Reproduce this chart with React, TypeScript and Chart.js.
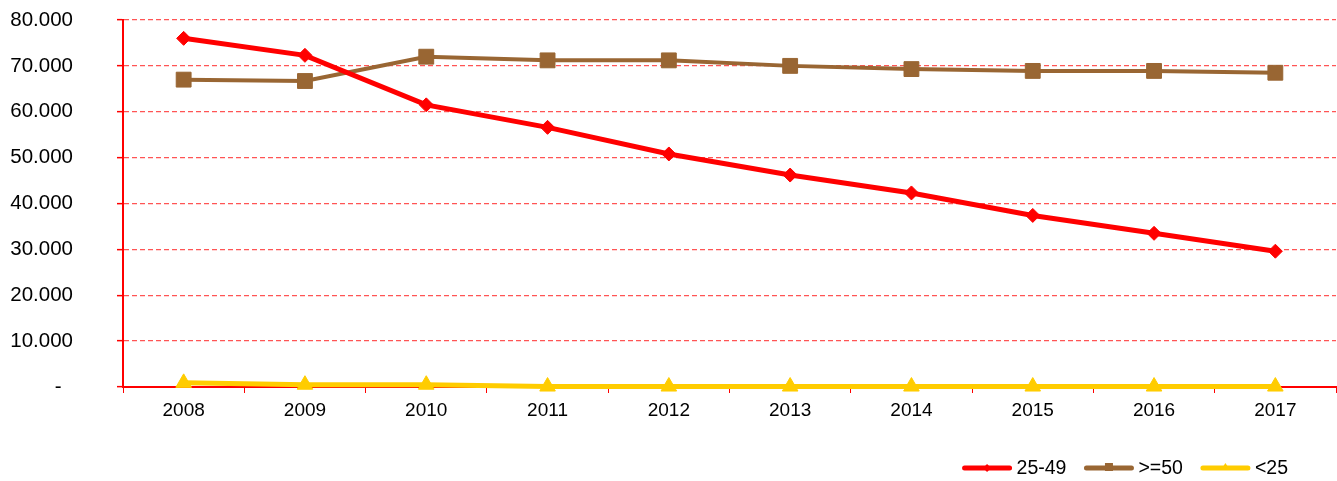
import { useEffect, useRef } from 'react';
import { Chart, registerables } from 'chart.js';

Chart.register(...registerables);

const FONT = "'Liberation Sans', Arial, sans-serif";

const years = ['2008', '2009', '2010', '2011', '2012', '2013', '2014', '2015', '2016', '2017'];
const age25to49 = [76000, 72300, 61500, 56600, 50800, 46200, 42300, 37400, 33500, 29600];
const age50plus = [67000, 66700, 72000, 71200, 71200, 70000, 69300, 68900, 68900, 68500];
const ageUnder25 = [900, 500, 500, 100, 100, 100, 100, 100, 100, 100];
const seriesLabels = ['25-49', '>=50', '<25'];
const seriesColors = ['#ff0000', '#996633', '#ffcc00'];
const seriesMarkers = ['rectRot', 'rect', 'triangle'];
const yMin = 0;
const yMax = 80000;
const yStep = 10000;

function fmt(v: number): string {
  if (v === 0) return '-  ';
  return String(Math.round(v)).replace(/\B(?=(\d{3})+(?!\d))/g, '.');
}

const legendPlugin = {
  id: 'customLegend',
  afterDraw(chart: any) {
    const ctx = chart.ctx as CanvasRenderingContext2D;
    const ds = chart.data.datasets;
    ctx.save();
    ctx.font = `19.5px ${FONT}`;
    const lineLen = 49;
    const textGap = 5;
    const itemGap = 18;
    const widths = ds.map((d: any) => ctx.measureText(d.label).width);
    let total = 0;
    widths.forEach((w: number) => (total += lineLen + textGap + w));
    total += itemGap * (ds.length - 1);
    let x = chart.width - 49 - total;
    const y = 468;
    ds.forEach((d: any, i: number) => {
      const c = d.borderColor;
      ctx.strokeStyle = c;
      ctx.fillStyle = c;
      ctx.lineWidth = 5;
      ctx.lineCap = 'round';
      ctx.beginPath();
      ctx.moveTo(x + 2, y);
      ctx.lineTo(x + lineLen - 2, y);
      ctx.stroke();
      const cx = x + lineLen / 2;
      ctx.beginPath();
      if (d.pointStyle === 'rectRot') {
        ctx.moveTo(cx - 4, y);
        ctx.lineTo(cx, y - 4);
        ctx.lineTo(cx + 4, y);
        ctx.lineTo(cx, y + 4);
        ctx.closePath();
      } else if (d.pointStyle === 'rect') {
        ctx.rect(cx - 4, y - 5, 8, 8);
      } else {
        ctx.moveTo(cx, y - 5);
        ctx.lineTo(cx + 4.5, y + 2);
        ctx.lineTo(cx - 4.5, y + 2);
        ctx.closePath();
      }
      ctx.fill();
      ctx.fillStyle = '#000';
      ctx.textBaseline = 'middle';
      ctx.textAlign = 'left';
      ctx.fillText(d.label, x + lineLen + textGap, y + 1);
      x += lineLen + textGap + widths[i] + itemGap;
    });
    ctx.restore();
  },
};

export default function App() {
  const ref = useRef<HTMLCanvasElement | null>(null);
  useEffect(() => {
    if (!ref.current) return;
    const allSeries = [age25to49, age50plus, ageUnder25];
    const radii = [7, 10.5, 9];
    const widths = [5, 4, 5];
    const chart = new Chart(ref.current, {
      type: 'line',
      data: {
        labels: years,
        datasets: allSeries.map((data, i) => ({
          label: seriesLabels[i],
          data,
          borderColor: seriesColors[i],
          backgroundColor: seriesColors[i],
          pointBackgroundColor: seriesColors[i],
          pointBorderColor: seriesColors[i],
          pointBorderWidth: 1,
          pointStyle: seriesMarkers[i] as any,
          pointRadius: radii[i],
          borderWidth: widths[i],
          tension: 0,
          fill: false,
          clip: false as any,
        })),
      },
      options: {
        responsive: false,
        animation: false,
        layout: { autoPadding: false, padding: { top: 20, right: 1, left: 0, bottom: 0 } },
        plugins: {
          legend: { display: false },
          tooltip: { enabled: false },
        },
        scales: {
          x: {
            offset: true,
            afterFit: (s: any) => {
              s.height = 94;
              s.paddingLeft = 0;
              s.paddingRight = 0;
            },
            grid: {
              offset: true,
              drawOnChartArea: false,
              drawTicks: true,
              tickLength: 6,
              tickColor: '#ff0000',
              tickWidth: 1,
            },
            border: { color: '#ff0000', width: 2 },
            ticks: {
              color: '#000',
              font: { family: FONT, size: 19 },
              padding: 6,
              maxRotation: 0,
            },
          },
          y: {
            min: yMin,
            max: yMax,
            afterFit: (s: any) => {
              s.width = 123;
              s.paddingTop = 0;
              s.paddingBottom = 0;
            },
            grid: {
              color: '#ff5555',
              lineWidth: 1.3,
              tickBorderDash: [],
              tickColor: '#ff0000',
              tickLength: 6,
              tickWidth: 1.5,
            },
            border: { color: '#ff0000', width: 2, dash: [5, 3] },
            ticks: {
              stepSize: yStep,
              color: '#000',
              font: { family: FONT, size: 20.5 },
              padding: 44,
              callback: (v: any) => fmt(Number(v)),
            },
          },
        },
      },
      plugins: [legendPlugin],
    });
    return () => chart.destroy();
  }, []);
  return (
    <div style={{ position: 'absolute', left: 0, top: 0, width: 1337, height: 481, background: '#fff' }}>
      <canvas ref={ref} width={1337} height={481} style={{ display: 'block' }} />
    </div>
  );
}
